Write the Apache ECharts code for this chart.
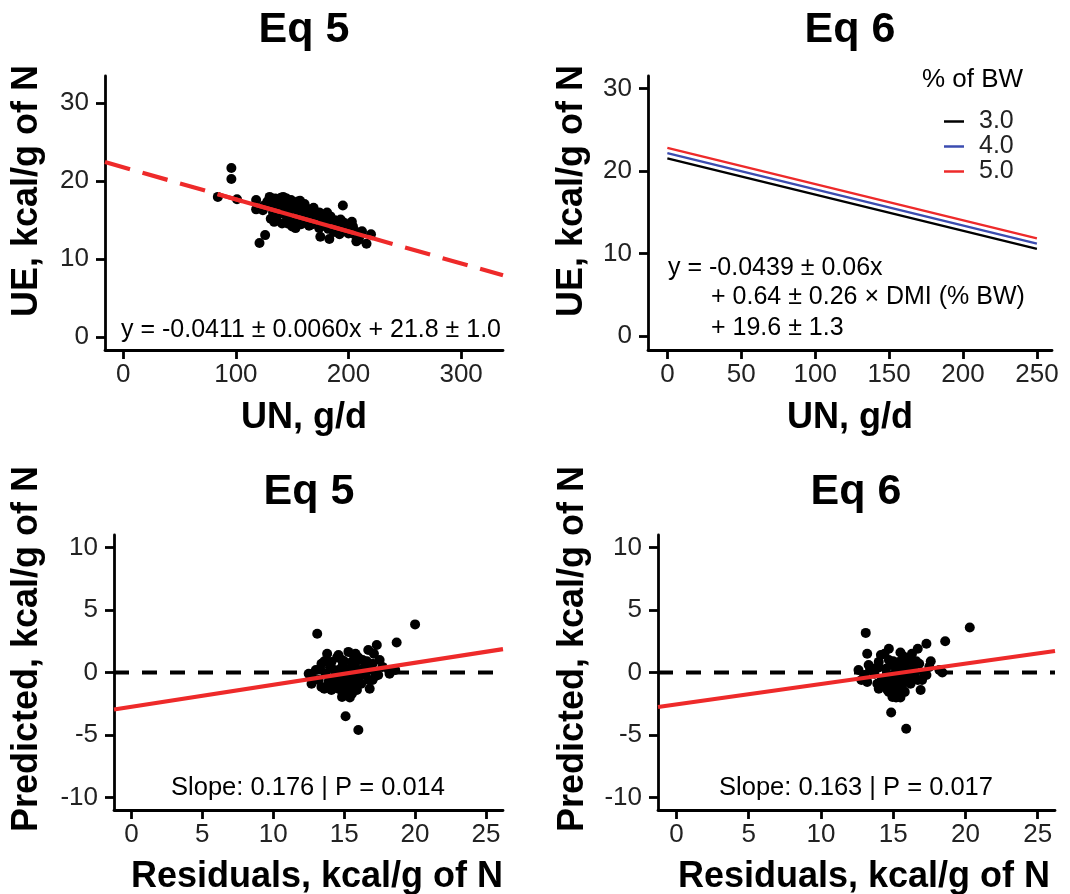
<!DOCTYPE html>
<html><head><meta charset="utf-8">
<script src="https://cdn.jsdelivr.net/npm/echarts@6/dist/echarts.min.js"></script>
<style>html,body{margin:0;padding:0;background:#fff}#c{width:1070px;height:894px}</style>
</head><body><div id="c"></div><script>
// ---------- data ----------
// Panel 1 (Eq 5): UN (g/d) vs UE (kcal/g of N)
const p1UN = [84,96,96,101,121,126,118,118,195,220,216,175,183,207,
130,135,142,132,138,145,150,154,159,163,166,170,175,179,184,188,191,194,144,147,141,151,156,162,167,172,176,181,185,190,199,204,207,209,
133,136,139,143,146,148,150,153,157,160,164,168,171,174,178,182,186,189,193,197,201,205,210,212,137,140,149,155,158,161,169,173,177,131,134,128,125,124,152,165,180,187,192,196,
138,142,146,150,154,158,162,166,170,174,178,183,187,195,200,134,157,145,181,203];
const p1UE = [18.0,21.7,20.3,17.7,12.1,13.1,17.6,16.4,16.9,13.2,12.0,12.9,12.6,12.3,
18.0,17.8,18.0,17.0,17.2,17.2,17.0,16.5,16.7,16.5,16.1,16.1,15.9,15.7,15.5,15.0,14.6,14.2,15.7,15.0,14.6,14.8,15.3,15.5,15.3,14.8,14.6,14.8,14.4,13.8,14.0,14.2,13.5,12.5,
16.0,15.4,16.3,16.8,16.2,15.6,14.2,14.0,16.0,15.8,15.0,14.5,15.6,14.0,15.2,13.9,14.9,14.3,15.1,13.6,13.9,13.2,13.0,13.6,17.6,17.9,17.6,17.4,16.9,17.1,16.6,15.3,15.6,15.2,14.8,17.4,16.9,16.3,15.5,14.3,14.2,13.5,13.2,14.7,
15.8,16.4,14.6,16.1,15.0,14.5,16.2,15.6,15.0,16.0,14.5,15.2,14.0,14.0,13.3,17.1,17.5,17.8,16.0,14.8];
const eq5Slope = -0.0411, eq5Intercept = 21.8;
const eq5FitRange = [84, 222];

// Panel 2 (Eq 6): lines for DMI % of BW
const dmiLevels = [3.0, 4.0, 5.0];
const dmiNames = ['3.0', '4.0', '5.0'];
const eq6SlopeUN = -0.0439, eq6SlopeDMI = 0.64, eq6Intercept = 19.6;
const eq6UNRange = [0, 250];

// Panel 3 (Eq 5 residual plot)
const p3X = [13.1,17.3,18.7,20.0,15.1,16.0,16.8,
13.8,14.6,15.3,15.8,16.7,17.1,13.4,14.1,14.85,15.55,16.3,17.0,17.7,18.15,18.6,12.5,13.0,13.7,14.4,15.1,15.8,16.5,17.2,13.2,13.9,14.6,15.3,16.0,16.7,13.4,14.1,15.0,15.55,15.2,15.9,14.85,14.75,15.45,16.15,14.3,
14.2,15.6,16.4,14.9,15.0,15.7,16.2,13.6,12.8,17.5,16.9,14.5,15.3,18.2,12.7,13.6,
14.0,14.4,14.8,15.0,15.2,15.4,15.6,15.8,16.0,16.2,16.6,17.0,14.6,15.3,15.7,16.0,13.3,17.4,14.9,15.4];
const p3Y = [3.1,2.2,2.4,3.85,-3.5,-4.6,-1.3,
1.5,1.4,1.65,1.5,1.8,1.5,0.7,0.85,1.0,0.85,1.0,0.7,0.45,0.2,0.2,-0.1,0.2,-0.1,-0.3,-0.1,-0.3,-0.1,-0.3,-0.6,-0.75,-0.9,-1.0,-0.75,-0.6,-1.15,-1.4,-1.55,-1.7,-1.8,-1.4,-1.95,0.3,0.1,0.2,0.2,
-0.5,0.5,0.4,0.6,-1.2,-1.2,-0.2,0.9,-0.5,1.0,0.3,1.2,-0.4,-0.1,-0.9,-1.3,
0.4,-0.9,-0.6,0.9,-0.8,0.3,-0.6,0.8,0.1,-0.9,0.9,-0.6,-1.3,-1.3,1.3,1.2,0.3,-0.2,-1.7,-2.0];
const eq5ResSlope = 0.176, eq5ResIntercept = -2.74;

// Panel 4 (Eq 6 residual plot)
const p4X = [13.1,20.3,18.6,17.3,14.86,15.9,16.9,
13.2,14.15,14.7,15.5,16.3,16.7,12.6,13.3,14.0,14.7,15.4,16.1,16.8,17.5,18.2,13.0,13.7,14.4,15.1,15.8,16.5,17.15,13.2,13.9,14.6,15.3,16.0,16.7,14.0,14.7,15.3,14.95,15.8,14.5,15.2,15.9,16.3,13.6,
14.2,15.6,16.4,14.9,15.0,15.6,16.2,12.8,17.6,18.4,15.2,14.4,
14.0,14.4,14.8,15.0,15.2,15.4,15.6,15.8,16.0,16.2,16.6,17.0,14.6,15.4,15.7,16.1,13.4,17.3,15.0,15.5];
const p4Y = [3.17,3.6,2.5,2.3,-3.2,-4.5,-1.4,
1.5,1.4,1.9,1.6,1.5,1.9,0.2,0.6,0.85,1.0,0.85,1.0,0.7,0.45,0.2,-0.2,-0.1,-0.45,-0.3,-0.1,-0.3,-0.1,-0.75,-0.9,-0.9,-1.0,-0.75,-0.6,-1.3,-1.55,-1.7,-1.95,-1.55,0.3,0.15,0.35,0.1,0.3,
-0.6,0.5,0.4,0.6,-1.2,-1.2,-0.2,-0.6,0.9,0.0,-2.0,1.5,
0.4,-1.0,-0.6,0.9,-0.8,0.3,-0.5,0.8,0.1,-0.9,0.9,-0.6,-1.4,-1.3,1.3,1.2,0.2,-0.2,-1.8,-2.0];
const eq6ResSlope = 0.163, eq6ResIntercept = -2.55;
const zeroRef = 0;

// tick labels
const p1XTicks = [0, 100, 200, 300];
const p1YTicks = [0, 10, 20, 30];
const p2XTicks = [0, 50, 100, 150, 200, 250];
const p2YTicks = [0, 10, 20, 30];
const resXTicks = [0, 5, 10, 15, 20, 25];
const resYTicks = [-10, -5, 0, 5, 10];

// ---------- chart ----------
const FONT = "'Liberation Sans', Arial, Helvetica, sans-serif";
const RED = '#ee2a2a', BLUE = '#3b4cb0', BLACK = '#000';
const P1X = [-16.2, 337.2], P1Y = [-1.63, 33.5];
const P2X = [-13.1, 260.2], P2Y = [-1.7, 31.5];
const P3X = [-1.23, 26.2], P3Y = [-11, 11];
const P4X = [-1.28, 26.2], P4Y = [-11, 11];

function zip(a, b) { return a.map((v, i) => [v, b[i]]); }
function seg(slope, icpt, x0, x1) { return [[x0, slope * x0 + icpt], [x1, slope * x1 + icpt]]; }

function axis(gi, range, ticks, isY) {
  return {
    type: 'value', gridIndex: gi, min: range[0], max: range[1],
    splitLine: { show: false },
    axisLine: { show: true, onZero: false, lineStyle: { color: BLACK, width: 2.8 } },
    axisTick: { show: true, length: 9, lineStyle: { color: BLACK, width: 2.8 }, customValues: ticks },
    axisLabel: { customValues: ticks, margin: isY ? 16 : 12, fontSize: 26, color: '#222', fontFamily: FONT }
  };
}

function txt(t, x, y, size, bold, align, rot) {
  return {
    type: 'text', x: x, y: y, rotation: rot || 0, silent: true,
    style: { text: t, x: 0, y: 0, fill: BLACK,
      font: (bold ? 'bold ' : '') + size + 'px ' + FONT,
      textAlign: align || 'center', textVerticalAlign: 'middle',
      align: align || 'center', verticalAlign: 'middle' }
  };
}

const scat = (gi, data) => ({ type: 'scatter', xAxisIndex: gi, yAxisIndex: gi, data: data,
  symbolSize: 10, itemStyle: { color: BLACK, opacity: 1 }, silent: true });
const ln = (gi, data, color, width, dash, name) => ({ type: 'line', name: name, xAxisIndex: gi, yAxisIndex: gi,
  data: data, showSymbol: false, symbol: 'none', silent: true,
  lineStyle: { color: color, width: width, type: dash || 'solid', cap: 'butt' }, itemStyle: { color: color } });

const series = [];
// panel 1
series.push(scat(0, zip(p1UN, p1UE)));
series.push(ln(0, seg(eq5Slope, eq5Intercept, P1X[0], P1X[1]), RED, 4.2, [26, 13]));
series.push(ln(0, seg(eq5Slope, eq5Intercept, eq5FitRange[0], eq5FitRange[1]), RED, 4.2));
// panel 2
const dmiColors = [BLACK, BLUE, RED];
dmiLevels.forEach((d, i) => {
  series.push(ln(1, seg(eq6SlopeUN, eq6SlopeDMI * d + eq6Intercept, eq6UNRange[0], eq6UNRange[1]), dmiColors[i], 2.3, null, dmiNames[i]));
});
// panel 3
series.push(ln(2, [[P3X[0], zeroRef], [P3X[1], zeroRef]], BLACK, 4, [15, 13]));
series.push(scat(2, zip(p3X, p3Y)));
series.push(ln(2, seg(eq5ResSlope, eq5ResIntercept, P3X[0], P3X[1]), RED, 4.2));
// panel 4
series.push(ln(3, [[P4X[0], zeroRef], [P4X[1], zeroRef]], BLACK, 4, [15, 13]));
series.push(scat(3, zip(p4X, p4Y)));
series.push(ln(3, seg(eq6ResSlope, eq6ResIntercept, P4X[0], P4X[1]), RED, 4.2));

const chart = echarts.init(document.getElementById('c'), null, { renderer: 'canvas' });
chart.setOption({
  animation: false,
  backgroundColor: '#fff',
  grid: [
    { left: 105, top: 76, width: 398, height: 274 },
    { left: 648, top: 76, width: 404, height: 274 },
    { left: 114, top: 535, width: 389, height: 275 },
    { left: 658, top: 535, width: 397, height: 275 }
  ],
  xAxis: [axis(0, P1X, p1XTicks), axis(1, P2X, p2XTicks), axis(2, P3X, resXTicks), axis(3, P4X, resXTicks)],
  yAxis: [axis(0, P1Y, p1YTicks, true), axis(1, P2Y, p2YTicks, true), axis(2, P3Y, resYTicks, true), axis(3, P4Y, resYTicks, true)],
  legend: {
    data: dmiNames, orient: 'vertical', left: 944, top: 109, padding: 0, itemGap: 0,
    icon: 'rect', itemWidth: 20, itemHeight: 2.5, selectedMode: false,
    textStyle: { fontSize: 25, lineHeight: 22, color: '#222', fontFamily: FONT, padding: [0, 0, 0, 10] }
  },
  graphic: [
    txt('Eq 5', 304, 30, 43, true),
    txt('Eq 6', 850, 30, 43, true),
    txt('Eq 5', 309, 492, 43, true),
    txt('Eq 6', 856, 492, 43, true),
    txt('UN, g/d', 304, 418, 36, true),
    txt('UN, g/d', 850, 418, 36, true),
    txt('Residuals, kcal/g of N', 317, 877, 36, true),
    txt('Residuals, kcal/g of N', 864, 877, 36, true),
    txt('UE, kcal/g of N', 27, 191, 36, true, 'center', Math.PI / 2),
    txt('UE, kcal/g of N', 572, 191, 36, true, 'center', Math.PI / 2),
    txt('Predicted, kcal/g of N', 27, 649, 36, true, 'center', Math.PI / 2),
    txt('Predicted, kcal/g of N', 573, 649, 36, true, 'center', Math.PI / 2),
    txt('y = -0.0411 \u00b1 0.0060x + 21.8 \u00b1 1.0', 311, 330, 25, false),
    txt('y = -0.0439 \u00b1 0.06x', 668, 268, 25, false, 'left'),
    txt('+ 0.64 \u00b1 0.26 \u00d7 DMI (% BW)', 711, 297, 25, false, 'left'),
    txt('+ 19.6 \u00b1 1.3', 711, 328, 25, false, 'left'),
    txt('% of BW', 922, 80, 26, false, 'left'),
    txt('Slope: 0.176 | P = 0.014', 308, 788, 25.5, false),
    txt('Slope: 0.163 | P = 0.017', 856, 788, 25.5, false)
  ],
  series: series
});
</script></body></html>
